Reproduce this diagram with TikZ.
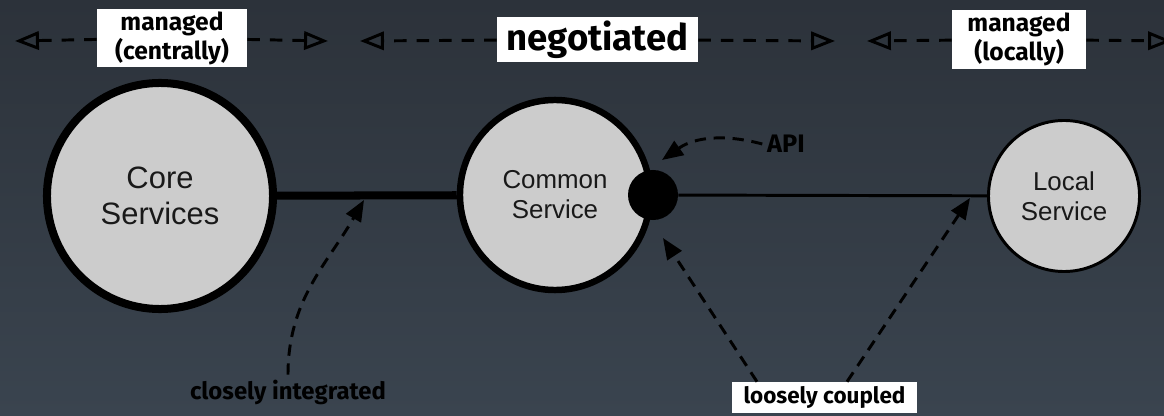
\documentclass[tikz,border=0pt]{standalone}
\usepackage{fontspec}
\setmainfont{Liberation Sans}
\newfontfamily\handfont{Fira Sans}
\usetikzlibrary{arrows.meta,calc}
\definecolor{bgtop}{RGB}{44,50,58}
\definecolor{bgbottom}{RGB}{58,68,79}
\definecolor{disc}{RGB}{204,204,204}
\tikzset{service/.style={circle, draw=black, fill=disc, inner sep=0pt, align=center, text=black!90}}
\tikzset{tag/.style={fill=white, inner sep=0pt, align=center, text=black}}
\tikzset{bound/.style={black, line width=2.1pt, dash pattern=on 9pt off 7pt, -{Triangle[open,length=17pt,width=13pt]}}}
\tikzset{callout/.style={black, line width=2.1pt, dash pattern=on 8pt off 5.5pt, -{Triangle[length=15pt,width=12pt]}}}

\begin{document}
\begin{tikzpicture}[x=0.025cm,y=0.025cm]
   \shade[top color=bgtop,bottom color=bgbottom] (0,0) rectangle (1164,415);
   \useasboundingbox (0,0) rectangle (1164,415);

   \node[service, line width=5.7pt, minimum size=5.65cm, font=\fontsize{22}{26}\selectfont] (core) at (160,219) {Core\\Services};
   \node[service, line width=4.6pt, minimum size=4.75cm, font=\fontsize{18.4}{21.3}\selectfont] (common) at (555,220) {Common\\Service};
   \node[circle, fill=black, inner sep=0pt, minimum size=1.25cm] (api) at (653,220) {};
   \node[service, line width=2.1pt, minimum size=3.775cm, font=\fontsize{18.4}{21.3}\selectfont] (local) at (1064,219) {Local\\Service};

   \draw[line width=5.7pt] (core) -- (common);
   \draw[line width=2.1pt] (api) -- (local);

   \node[tag, minimum width=3.75cm, minimum height=1.45cm, font=\handfont\bfseries\fontsize{17.5}{20.6}\selectfont] (centrally) at (172,377) {managed\\(centrally)};
   \node[tag, minimum width=5.025cm, minimum height=1.125cm, font=\handfont\bfseries\fontsize{26}{30}\selectfont] (negotiated) at (597.5,375.5) {negotiated};
   \node[tag, minimum width=3.35cm, minimum height=1.475cm, font=\handfont\bfseries\fontsize{17.5}{20.6}\selectfont] (locally) at (1019,375.5) {managed\\(locally)};
   \node[tag, minimum width=4.625cm, minimum height=0.775cm, font=\handfont\bfseries\fontsize{16}{18}\selectfont] (coupled) at (824.5,17.5) {loosely coupled};

   \coordinate (cenL) at (15,374);
   \coordinate (cenR) at (328,374);
   \coordinate (negL) at (360,374);
   \coordinate (negR) at (835,374);
   \coordinate (locL) at (867,374);
   \coordinate (locR) at (1172,374);
   \draw[bound] (centrally) -- (cenL);
   \draw[bound] (centrally) -- (cenR);
   \draw[bound] (negotiated) -- (negL);
   \draw[bound] (negotiated) -- (negR);
   \draw[bound] (locally) -- (locL);
   \draw[bound] (locally) -- (locR);

   \node[text=black, font=\handfont\bfseries\fontsize{18}{20}\selectfont] (apinote) at (786,271) {API};
   \node[text=black, font=\handfont\bfseries\fontsize{17}{20}\selectfont] (integrated) at (288,23) {closely integrated};
   \coordinate (apitip) at (662,255);
   \coordinate (inttip) at (364,215);
   \coordinate (commontip) at (663,177);
   \coordinate (localtip) at (970,217);

   \draw[callout] (apinote.west) to[out=165,in=35] (apitip);
   \draw[callout] (integrated.north) to[out=90,in=240] (inttip);
   \draw[callout] ($(coupled.north)+(-67.5,0)$) -- (commontip);
   \draw[callout] ($(coupled.north)+(22.5,0)$) -- (localtip);
\end{tikzpicture}
\end{document}
